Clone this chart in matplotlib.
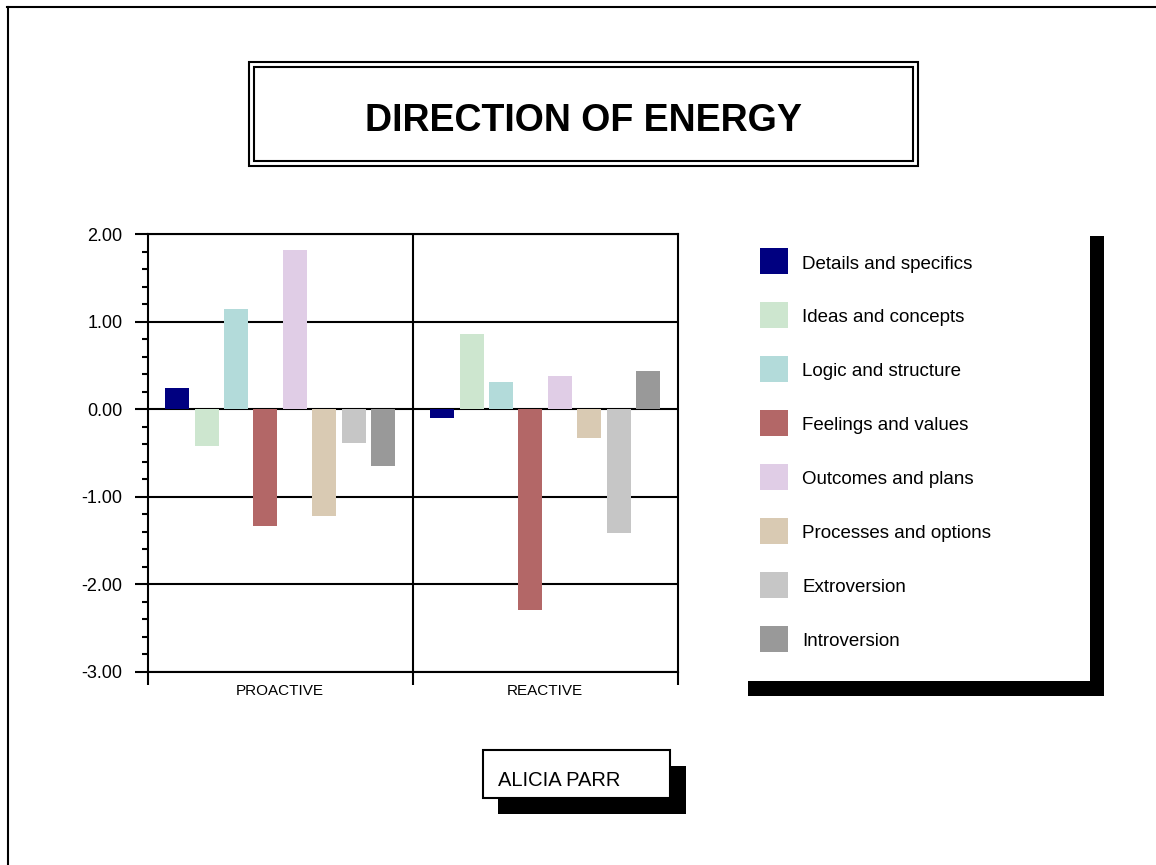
import matplotlib
matplotlib.use('Agg')
import matplotlib.pyplot as plt
from matplotlib.patches import Rectangle
import numpy as np

plt.rcParams['font.family'] = ['Liberation Sans', 'DejaVu Sans']

# data
groups = ['PROACTIVE', 'REACTIVE']
series = ['Details and specifics', 'Ideas and concepts', 'Logic and structure',
          'Feelings and values', 'Outcomes and plans', 'Processes and options',
          'Extroversion', 'Introversion']
proactive = [0.24, -0.42, 1.14, -1.33, 1.82, -1.22, -0.39, -0.645]
reactive = [-0.10, 0.86, 0.31, -2.29, 0.38, -0.325, -1.42, 0.43]
colors = ['#000080', '#cde6cf', '#b3dbda', '#b36767', '#e0cde6', '#d9cab3',
          '#c6c6c6', '#999999']
title = 'DIRECTION OF ENERGY'
person = 'ALICIA PARR'

W, H = 1156, 865
fig = plt.figure(figsize=(W / 100, H / 100), dpi=100)


def fx(x):
    return x / W


def fy(y):
    return 1 - y / H


def box(x0, y0, x1, y1, **kw):
    # rectangle given in pixel coords (top-left origin)
    r = Rectangle((fx(x0), fy(y1)), fx(x1) - fx(x0), fy(y0) - fy(y1),
                  transform=fig.transFigure, **kw)
    fig.add_artist(r)
    return r


# page frame (top and left edges only)
fig.add_artist(plt.Line2D([fx(7), 1], [fy(7), fy(7)], color='black', lw=1.5,
                          transform=fig.transFigure))
fig.add_artist(plt.Line2D([fx(7.5), fx(7.5)], [fy(7), 0], color='black', lw=1.5,
                          transform=fig.transFigure))

# title double box
box(249, 62, 918, 166, facecolor='white', edgecolor='black', lw=1.5)
box(254, 67, 913, 161, facecolor='none', edgecolor='black', lw=1.5)
fig.text(fx(583.5), fy(121), title, ha='center', va='center',
         fontsize=27, fontweight='bold')

# main axes
ax = fig.add_axes([fx(147.7), fy(671.7), fx(677.7) - fx(147.7), fy(234) - fy(671.7)])
n = len(series)
pitch = 0.111
width = 0.0906
x = np.arange(len(groups))
for i, (name, c) in enumerate(zip(series, colors)):
    vals = [proactive[i], reactive[i]]
    ax.bar(x + (i - (n - 1) / 2) * pitch, vals, width=width, color=c,
           edgecolor='none', zorder=3, label=name)

ax.set_xlim(-0.5, 1.5)
ax.set_ylim(-3, 2)
ax.set_yticks(np.arange(-3, 2.01, 1))
ax.set_yticklabels([f'{v:.2f}' for v in np.arange(-3, 2.01, 1)], fontsize=13)
ax.set_yticks(np.arange(-3, 2.01, 0.2), minor=True)
ax.tick_params(axis='y', which='major', direction='out', length=9.2, width=1.5, pad=9)
ax.tick_params(axis='y', which='minor', direction='out', length=4.5, width=1.5)
ax.grid(axis='y', which='major', color='black', lw=1.5, zorder=1)

ax.set_xticks(x)
ax.set_xticklabels(groups, fontsize=11)
ax.set_xticks([-0.5, 0.5, 1.5], minor=True)
ax.tick_params(axis='x', which='major', length=0, pad=9)
ax.tick_params(axis='x', which='minor', direction='out', length=9.2, width=1.5)
ax.axvline(0.5, color='black', lw=1.5, zorder=1)
for s in ax.spines.values():
    s.set_linewidth(1.5)
    s.set_zorder(4)

# legend with drop shadow
box(748, 236, 1104, 695.5, facecolor='black', edgecolor='none')
box(734, 222, 1090, 681, facecolor='white', edgecolor='none')
for i, (name, c) in enumerate(zip(series, colors)):
    top = 248 + 54 * i
    box(760, top, 788, top + 26, facecolor=c, edgecolor='none')
    fig.text(fx(802.5), fy(top + 16), name, ha='left', va='center', fontsize=13.5)

# name box with drop shadow
box(498, 766, 686, 814, facecolor='black', edgecolor='none')
box(482.7, 750, 670, 798, facecolor='white', edgecolor='black', lw=1.5)
fig.text(fx(498), fy(780), person, ha='left', va='center', fontsize=14.5)

fig.savefig('out.png', dpi=100)
